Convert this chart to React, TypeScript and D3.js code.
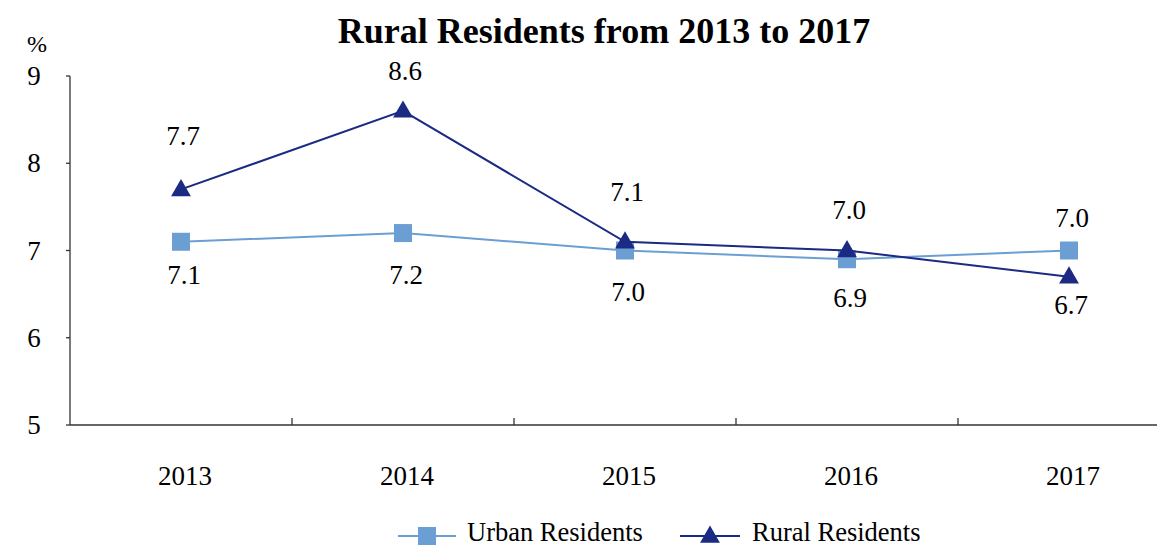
import React from "react";
import * as d3 from "d3";

const years = ["2013", "2014", "2015", "2016", "2017"];
const urban = [7.1, 7.2, 7.0, 6.9, 7.0];
const rural = [7.7, 8.6, 7.1, 7.0, 6.7];
const yTicks = [5, 6, 7, 8, 9];

// label vertical offsets (layout)
const urbanLabelDy = [33, 42, 41, 39, -33];
const ruralLabelDy = [-53, -40, -50, -41, 28];

const W = 1157, H = 546;
const URBAN = "#6b9fd3";
const RURAL = "#1b2a82";
const FONT = "'Liberation Serif', 'Times New Roman', serif";

export default function App() {
  const x = d3.scaleBand<string>().domain(years).range([70, 1180]);
  const y = d3.scaleLinear().domain([5, 9]).range([425, 76]);
  const cx = (d: string) => (x(d) as number) + x.bandwidth() / 2;
  const line = d3.line<number>().x((_, i) => cx(years[i])).y((v) => y(v));
  const tri = d3.symbol().type(d3.symbolTriangle).size(170);

  return (
    <svg width={W} height={H} style={{ position: "absolute", left: 0, top: 0, background: "#fff", fontFamily: FONT }}>
      <text x={604} y={43} textAnchor="middle" fontSize={36} fontWeight="bold">Rural Residents from 2013 to 2017</text>
      <text x={37} y={52} textAnchor="middle" fontSize={24}>%</text>
      {/* y axis */}
      <line x1={70} x2={70} y1={y(9)} y2={y(5)} stroke="#333" strokeWidth={1.3} />
      {yTicks.map((t) => (
        <g key={t}>
          <line x1={66} x2={70} y1={y(t)} y2={y(t)} stroke="#333" strokeWidth={1.3} />
          <text x={34} y={y(t) + 9} textAnchor="middle" fontSize={27}>{t}</text>
        </g>
      ))}
      {/* x axis */}
      <line x1={70} x2={1180} y1={y(5)} y2={y(5)} stroke="#333" strokeWidth={1.3} />
      {years.slice(1).map((yr) => (
        <line key={yr} x1={x(yr)} x2={x(yr)} y1={y(5)} y2={y(5) - 7} stroke="#333" strokeWidth={1.3} />
      ))}
      {years.map((yr) => (
        <text key={yr} x={cx(yr) + 4} y={485} textAnchor="middle" fontSize={27}>{yr}</text>
      ))}
      {/* urban */}
      <path d={line(urban) || ""} fill="none" stroke={URBAN} strokeWidth={2} />
      {urban.map((v, i) => (
        <rect key={i} x={cx(years[i]) - 9} y={y(v) - 9} width={18} height={18} fill={URBAN} />
      ))}
      {/* rural */}
      <path d={line(rural) || ""} fill="none" stroke={RURAL} strokeWidth={2} />
      {rural.map((v, i) => (
        <path key={i} d={tri() || ""} transform={`translate(${cx(years[i])},${y(v) + 1})`} fill={RURAL} />
      ))}
      {/* labels */}
      {urban.map((v, i) => (
        <text key={"u" + i} x={cx(years[i]) + 3} y={y(v) + urbanLabelDy[i] + 9} textAnchor="middle" fontSize={27}>{v.toFixed(1)}</text>
      ))}
      {rural.map((v, i) => (
        <text key={"r" + i} x={cx(years[i]) + 2} y={y(v) + ruralLabelDy[i] + 9} textAnchor="middle" fontSize={27}>{v.toFixed(1)}</text>
      ))}
      {/* legend */}
      <line x1={398} x2={456} y1={536} y2={536} stroke={URBAN} strokeWidth={2} />
      <rect x={418} y={527} width={18} height={18} fill={URBAN} />
      <text x={467} y={541} fontSize={26.5}>Urban Residents</text>
      <line x1={680} x2={740} y1={536} y2={536} stroke={RURAL} strokeWidth={2} />
      <path d={tri() || ""} transform="translate(710,537)" fill={RURAL} />
      <text x={752} y={541} fontSize={26.5}>Rural Residents</text>
    </svg>
  );
}
